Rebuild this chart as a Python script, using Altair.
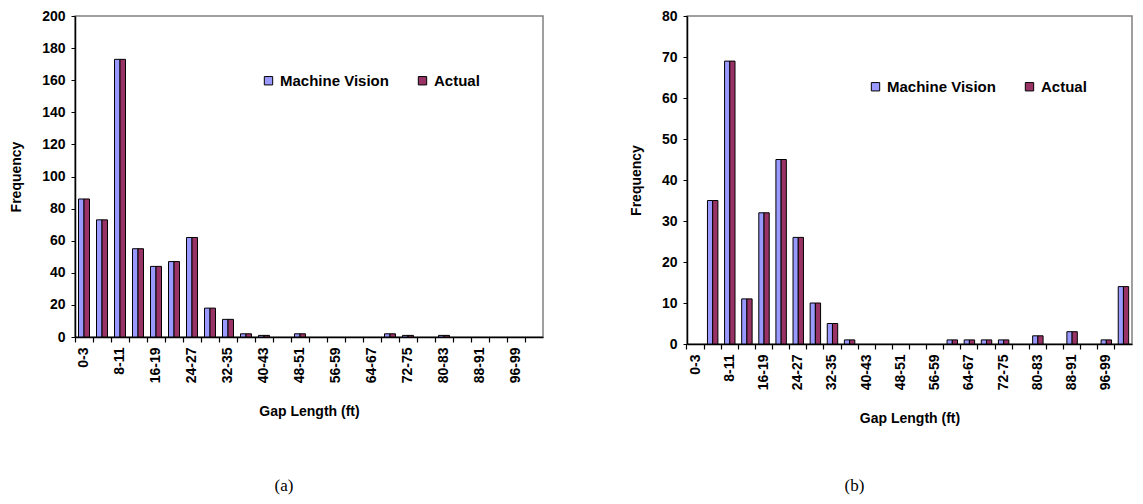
import altair as alt
import pandas as pd

categories = ["0-3", "4-7", "8-11", "12-15", "16-19", "20-23", "24-27", "28-31",
              "32-35", "36-39", "40-43", "44-47", "48-51", "52-55", "56-59", "60-63",
              "64-67", "68-71", "72-75", "76-79", "80-83", "84-87", "88-91", "92-95",
              "96-99", "100+"]
series = ["Machine Vision", "Actual"]
colors = ["#9999FF", "#993366"]

a_machine = [86, 73, 173, 55, 44, 47, 62, 18, 11, 2, 1, 0, 2, 0, 0, 0, 0, 2, 1, 0, 1, 0, 0, 0, 0, 0]
a_actual = [86, 73, 173, 55, 44, 47, 62, 18, 11, 2, 1, 0, 2, 0, 0, 0, 0, 2, 1, 0, 1, 0, 0, 0, 0, 0]
b_machine = [0, 35, 69, 11, 32, 45, 26, 10, 5, 1, 0, 0, 0, 0, 0, 1, 1, 1, 1, 0, 2, 0, 3, 0, 1, 14]
b_actual = [0, 35, 69, 11, 32, 45, 26, 10, 5, 1, 0, 0, 0, 0, 0, 1, 1, 1, 1, 0, 2, 0, 3, 0, 1, 14]

FONT = "Liberation Sans"
LABEL_EXPR = "parseInt(datum.value) % 8 == 0 && parseInt(datum.value) < 100 ? datum.label : ''"


def panel(machine, actual, ymax, ystep, width, height, tag, lx, ly, tag_dx, tag_offset):
    rows = []
    for c, m, a in zip(categories, machine, actual):
        rows.append({"cat": c, "series": series[0], "value": m})
        rows.append({"cat": c, "series": series[1], "value": a})
    df = pd.DataFrame(rows)
    xscale = alt.Scale(domain=categories, paddingInner=0, paddingOuter=0)
    base = alt.Chart(df)
    bars = base.mark_bar(stroke="black", strokeWidth=1).encode(
        x=alt.X("cat:N", sort=None, scale=xscale,
                axis=alt.Axis(labelExpr=LABEL_EXPR, labelAngle=-90, ticks=False,
                              orient="bottom", title="Gap Length (ft)", titlePadding=22,
                              labelPadding=10, labelOverlap=False, labelBound=False,
                              labelFlush=False,
                              domainColor="black", domainWidth=1.5)),
        xOffset=alt.XOffset("series:N", sort=None,
                            scale=alt.Scale(domain=series, paddingInner=0, paddingOuter=0.64)),
        y=alt.Y("value:Q", stack=None, scale=alt.Scale(domain=[0, ymax], nice=False),
                axis=alt.Axis(values=list(range(0, ymax + 1, ystep)), grid=False,
                              title="Frequency", titlePadding=18, tickSize=4,
                              labelPadding=6, domainColor="black", domainWidth=1.5,
                              tickColor="black")),
        color=alt.Color("series:N", sort=None,
                        scale=alt.Scale(domain=series, range=colors),
                        legend=alt.Legend(orient="none", legendX=lx, legendY=ly,
                                          direction="horizontal", title=None,
                                          symbolType="square", symbolSize=70,
                                          symbolStrokeColor="black", symbolStrokeWidth=1,
                                          labelFont=FONT, labelFontWeight="bold",
                                          labelFontSize=15, labelColor="black",
                                          columnPadding=26, labelOffset=4)),
        strokeOpacity=alt.condition("datum.value > 0", alt.value(1), alt.value(0)),
    )
    ticks = base.mark_point(opacity=0).encode(
        x=alt.X("cat:N", sort=None, scale=xscale,
                axis=alt.Axis(bandPosition=0, labels=False, title=None,
                              domain=False, orient="bottom", tickSize=5, tickColor="black",
                              tickWidth=1.2)),
        y=alt.value(0),
    )
    return alt.layer(bars, ticks).resolve_axis(x="independent").properties(
        width=width, height=height,
        title=alt.TitleParams(tag, orient="bottom", font="Liberation Serif", fontSize=17,
                              fontWeight="normal", anchor="middle", offset=tag_offset,
                              dx=tag_dx, color="black"),
    )


left = panel(a_machine, a_actual, 200, 20, 468, 321, "(a)", 186, 57, -25, 59)
right = panel(b_machine, b_actual, 80, 10, 445, 328, "(b)", 181, 63, -55, 52)

chart = alt.hconcat(left, right, spacing=84).resolve_scale(
    x="independent", y="independent", xOffset="independent", color="independent",
    strokeOpacity="independent"
).resolve_legend(color="independent", strokeOpacity="independent").properties(
    padding=0, background="white"
).configure_view(
    stroke="#808080", strokeWidth=1.5
).configure_axis(
    labelFont=FONT, labelFontWeight="bold", labelFontSize=14, labelColor="black",
    titleFont=FONT, titleFontWeight="bold", titleFontSize=14, titleColor="black",
)

chart.save("out.html", embed_options={"renderer": "svg", "actions": False})
